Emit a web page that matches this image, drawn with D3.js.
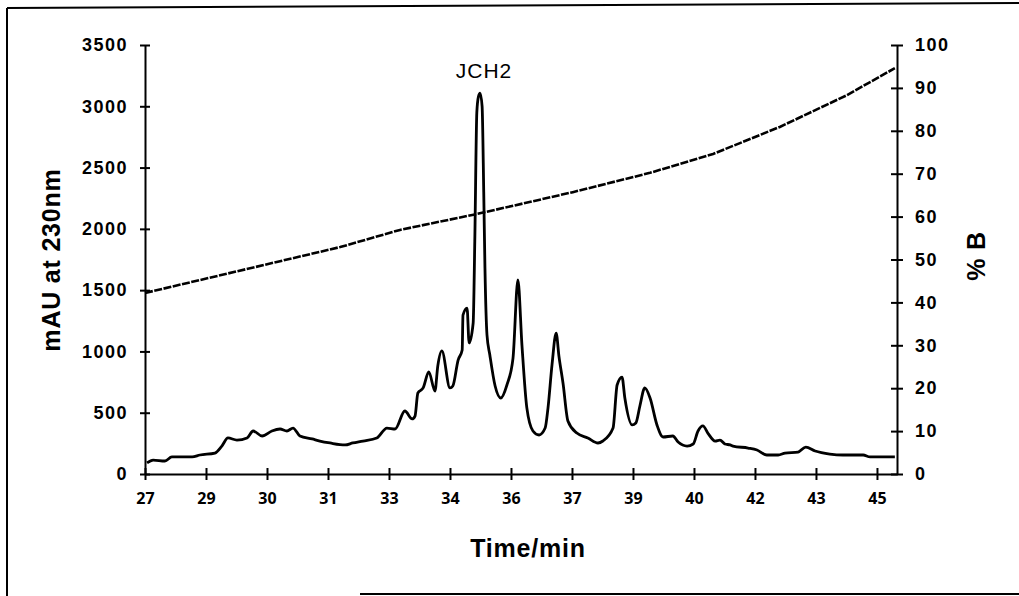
<!DOCTYPE html>
<html>
<head>
<meta charset="utf-8">
<script src="https://cdn.jsdelivr.net/npm/d3@7"></script>
<style>
  body { margin: 0; background: #fff; }
  svg { display: block; }
  .axis path, .axis line { stroke: #000; stroke-width: 2; }
  .axis text { fill: #000; }
  .y-axis text { font-family: "Liberation Sans", Arial, sans-serif; font-weight: bold; font-size: 18px; letter-spacing: 1.5px; }
  .x-axis text { font-family: "Open Sans", sans-serif; font-weight: bold; font-size: 16px; }
  .title { font-family: "Liberation Sans", Arial, sans-serif; font-weight: bold; font-size: 25px; letter-spacing: 0.8px; }
</style>
</head>
<body>
<div class="chart"></div>
<script>
// chromatogram (time in min, absorbance in mAU)
const timeMin = [27.05, 27.20, 27.49, 27.66, 28.16, 28.35, 28.72, 28.89, 29.04, 29.26, 29.51, 29.66, 29.88, 30.12,
  30.32, 30.49, 30.64, 30.81, 31.11, 31.30, 31.55, 31.92, 32.11, 32.36, 32.70, 32.95, 33.15, 33.39, 33.57, 33.64,
  33.71, 33.84, 33.98, 34.13, 34.20, 34.30, 34.50, 34.57, 34.70, 34.80, 34.82, 34.92, 34.97, 35.07, 35.11, 35.16,
  35.20, 35.24, 35.29, 35.33, 35.36, 35.41, 35.48, 35.61, 35.75, 35.90, 36.05, 36.17, 36.27, 36.39, 36.54, 36.69,
  36.84, 36.91, 37.01, 37.11, 37.18, 37.28, 37.40, 37.62, 37.89, 38.14, 38.26, 38.51, 38.61, 38.73, 38.80,
  38.98, 39.07, 39.17, 39.29, 39.42, 39.59, 39.74, 39.98, 40.11, 40.33, 40.48, 40.60, 40.72, 40.84, 41.02, 41.14,
  41.26, 41.39, 41.46, 41.83, 42.05, 42.29, 42.57, 42.74, 43.06, 43.25, 43.48, 43.84, 44.16, 44.66, 44.83, 45.44];
const mAU = [90, 114, 106, 139, 139, 155, 171, 228, 294, 277, 294, 351, 310, 351,
  367, 351, 375, 310, 286, 269, 253, 237, 253, 269, 294, 375, 367, 514, 449, 473,
  661, 702, 832, 677, 881, 1004, 702, 718, 930, 1012, 1297, 1354, 1069, 1232, 1900, 2950,
  3080, 3108, 3000, 2300, 1680, 1134, 971, 718, 620, 726, 946, 1583, 1050, 539, 351, 318,
  375, 538, 894, 1150, 960, 740, 433, 334, 294, 253, 269, 375, 726, 791, 620,
  400, 416, 555, 702, 620, 400, 302, 310, 261, 228, 245, 351, 392, 334, 269, 277,
  245, 237, 228, 212, 196, 155, 155, 171, 179, 220, 188, 163, 155, 155, 139, 139];

// solvent gradient (% B)
const gradTime = [27.0, 31.8, 33.27, 35.16, 37.52, 39.42, 40.97, 42.61, 44.26, 45.44];
const gradB = [42.2, 52.9, 56.9, 60.6, 65.7, 70.2, 74.6, 80.9, 88.3, 94.6];

// category-style tick labels as printed
const xTickValues = [27, 28.5, 30, 31.5, 33, 34.5, 36, 37.5, 39, 40.5, 42, 43.5, 45];
const xTickLabels = ['27', '29', '30', '31', '33', '34', '36', '37', '39', '40', '42', '43', '45'];
const leftTicks = [0, 500, 1000, 1500, 2000, 2500, 3000, 3500];
const rightTicks = [0, 10, 20, 30, 40, 50, 60, 70, 80, 90, 100];

const width = 1019, height = 596;

const svg = d3.select('.chart')
  .append('svg')
  .attr('width', width)
  .attr('height', height);

// frame of the scanned figure
svg.append('line').attr('x1', 7).attr('y1', 8).attr('x2', 1019).attr('y2', 3)
  .attr('stroke', '#000').attr('stroke-width', 2);
svg.append('line').attr('x1', 7).attr('y1', 8).attr('x2', 7).attr('y2', 596)
  .attr('stroke', '#000').attr('stroke-width', 2);
svg.append('line').attr('x1', 360).attr('y1', 594).attr('x2', 1019).attr('y2', 594)
  .attr('stroke', '#000').attr('stroke-width', 2);

const xScale = d3.scaleLinear().domain([27, 45.5]).range([145, 897.3]);
const yScale = d3.scaleLinear().domain([0, 3500]).range([474, 45]);
const bScale = d3.scaleLinear().domain([0, 100]).range([474, 45]);

const xAxis = d3.axisBottom(xScale)
  .tickValues(xTickValues)
  .tickFormat((d, i) => xTickLabels[i])
  .tickSizeInner(6).tickSizeOuter(0).tickPadding(13);
const yAxis = d3.axisLeft(yScale)
  .tickValues(leftTicks).tickFormat(d3.format('d'))
  .tickSizeInner(5).tickSizeOuter(0).tickPadding(12);
const bAxis = d3.axisRight(bScale)
  .tickValues(rightTicks).tickFormat(d3.format('d'))
  .tickSizeInner(6).tickSizeOuter(0).tickPadding(12);

svg.append('g').attr('class', 'axis x-axis')
  .attr('transform', 'translate(0,474)')
  .call(xAxis)
  .call(g => g.selectAll('.tick line').attr('y1', -6));

svg.append('g').attr('class', 'axis y-axis')
  .attr('transform', 'translate(145,0)')
  .call(yAxis)
  .call(g => g.selectAll('.tick line').attr('x1', 5));

svg.append('g').attr('class', 'axis y-axis')
  .attr('transform', 'translate(897,0)')
  .call(bAxis)
  .call(g => g.selectAll('.tick line').attr('x1', -6));

// gradient line
const gradData = gradTime.map((t, i) => ({t: t, b: gradB[i]}));
svg.append('path')
  .datum(gradData)
  .attr('fill', 'none')
  .attr('stroke', '#000')
  .attr('stroke-width', 2.6)
  .attr('stroke-dasharray', '8,1.5')
  .attr('d', d3.line().x(d => xScale(d.t)).y(d => bScale(d.b)));

// absorbance trace
const traceData = timeMin.map((t, i) => ({t: t, v: mAU[i]}));
svg.append('path')
  .datum(traceData)
  .attr('fill', 'none')
  .attr('stroke', '#000')
  .attr('stroke-width', 2.8)
  .attr('stroke-linejoin', 'round')
  .attr('d', d3.line().x(d => xScale(d.t)).y(d => yScale(d.v)).curve(d3.curveMonotoneX));

// labels
svg.append('text')
  .attr('x', 484).attr('y', 78)
  .attr('text-anchor', 'middle')
  .style('font-family', '"Liberation Sans", Arial, sans-serif')
  .style('font-size', '21px')
  .style('letter-spacing', '1px')
  .text('JCH2');

svg.append('text').attr('class', 'title')
  .attr('x', 528).attr('y', 557)
  .attr('text-anchor', 'middle')
  .text('Time/min');

svg.append('text').attr('class', 'title')
  .attr('transform', 'translate(60,260) rotate(-90)')
  .attr('text-anchor', 'middle')
  .text('mAU at 230nm');

svg.append('text').attr('class', 'title')
  .attr('transform', 'translate(985,256) rotate(-90)')
  .attr('text-anchor', 'middle')
  .text('% B');
</script>
</body>
</html>
